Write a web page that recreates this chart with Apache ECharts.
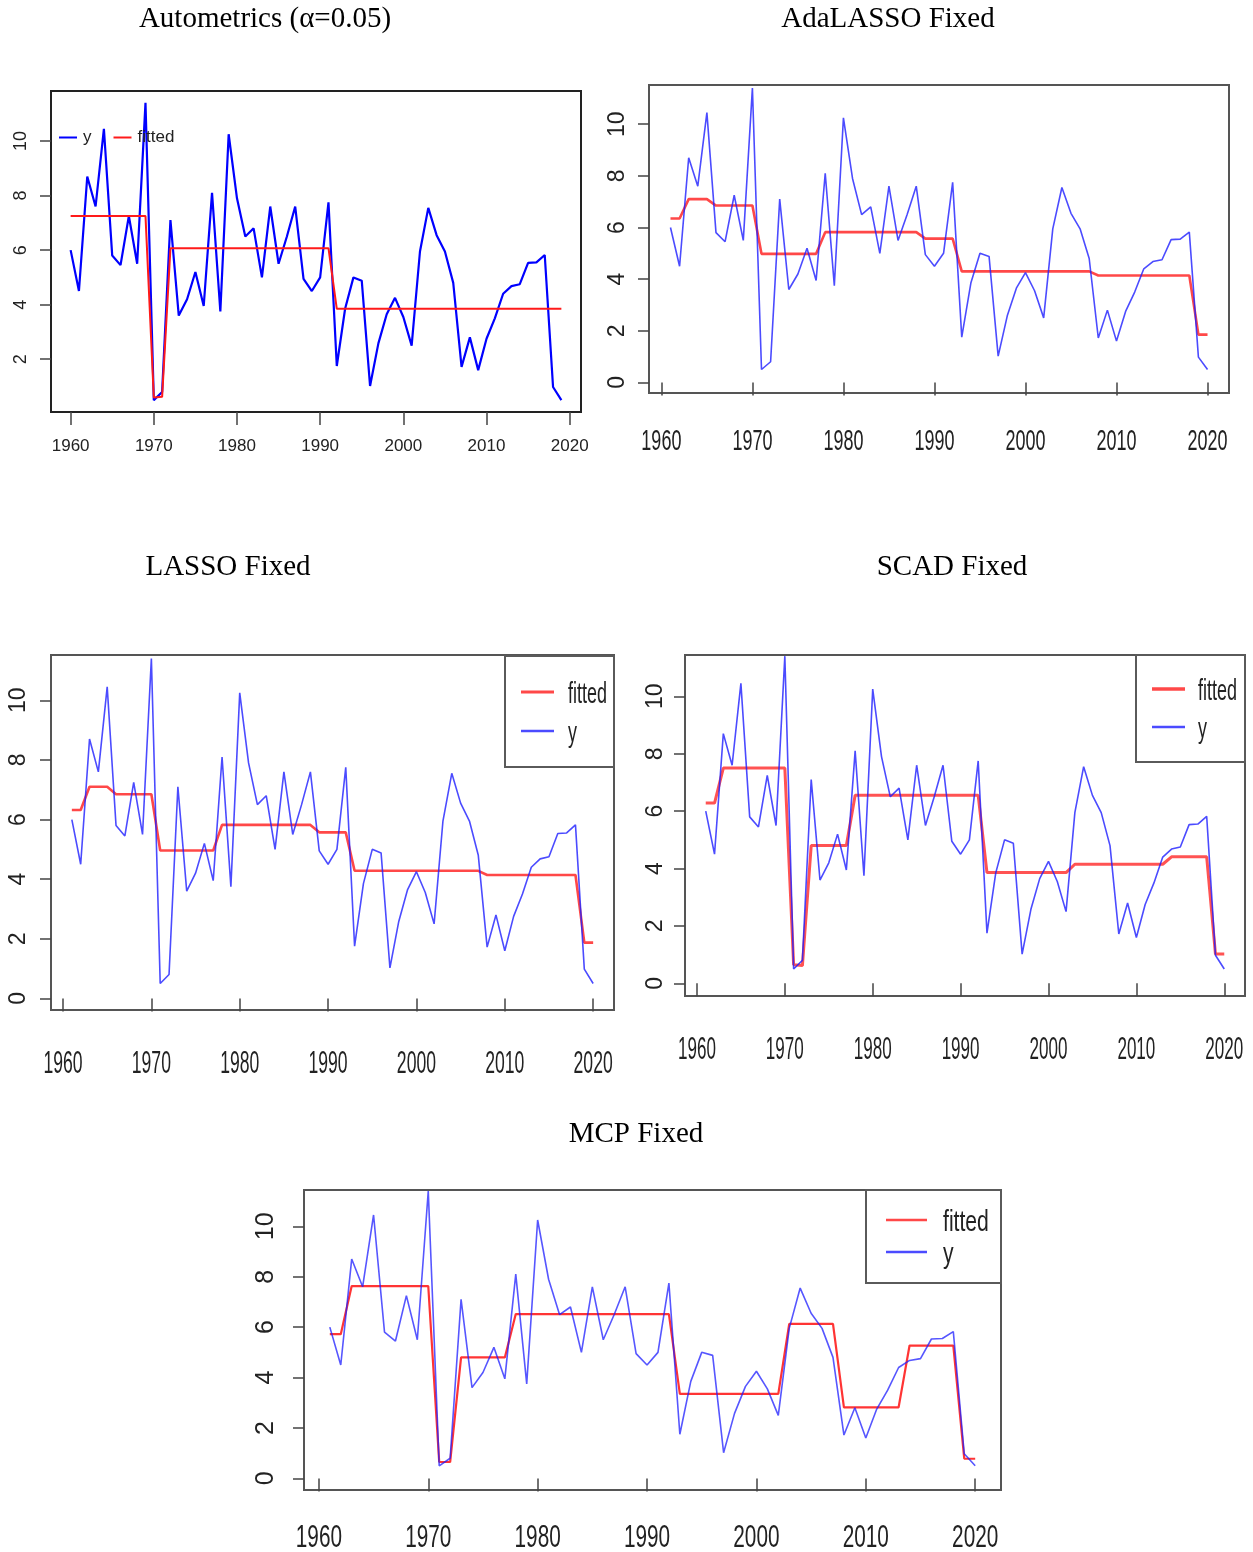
<!DOCTYPE html>
<html>
<head>
<meta charset="utf-8">
<title>y vs fitted</title>
<script src="https://cdn.jsdelivr.net/npm/echarts@6.0.0/dist/echarts.min.js"></script>
<style>
  html, body { margin: 0; padding: 0; background: #fff; }
  #main { width: 1253px; height: 1552px; }
</style>
</head>
<body>
<div id="main"></div>
<script>
var yValues = [
  6.0, 4.5, 8.7, 7.6, 10.45, 5.8, 5.45, 7.25, 5.5, 11.4,
  0.5, 0.8, 7.1, 3.6, 4.2, 5.2, 3.95, 8.1, 3.75, 10.25,
  7.9, 6.5, 6.8, 5.0, 7.6, 5.5, 6.5, 7.6, 4.95, 4.5,
  5.0, 7.75, 1.75, 3.85, 5.0, 4.88, 1.02, 2.58, 3.65, 4.25,
  3.55, 2.5, 5.95, 7.55, 6.55, 5.95, 4.8, 1.72, 2.8, 1.6,
  2.75, 3.5, 4.4, 4.68, 4.75, 5.53, 5.55, 5.82, 0.98, 0.5
];

var fitAutometrics = [
  7.25, 7.25, 7.25, 7.25, 7.25, 7.25, 7.25, 7.25, 7.25, 7.25,
  0.6, 0.62, 6.07, 6.07, 6.07, 6.07, 6.07, 6.07, 6.07, 6.07,
  6.07, 6.07, 6.07, 6.07, 6.07, 6.07, 6.07, 6.07, 6.07, 6.07,
  6.07, 6.07, 3.85, 3.85, 3.85, 3.85, 3.85, 3.85, 3.85, 3.85,
  3.85, 3.85, 3.85, 3.85, 3.85, 3.85, 3.85, 3.85, 3.85, 3.85,
  3.85, 3.85, 3.85, 3.85, 3.85, 3.85, 3.85, 3.85, 3.85, 3.85
];

var fitAdaLasso = [
  6.35, 6.35, 7.1, 7.1, 7.1, 6.85, 6.85, 6.85, 6.85, 6.85,
  4.98, 4.98, 4.98, 4.98, 4.98, 4.98, 4.98, 5.82, 5.82, 5.82,
  5.82, 5.82, 5.82, 5.82, 5.82, 5.82, 5.82, 5.82, 5.57, 5.57,
  5.57, 5.57, 4.3, 4.3, 4.3, 4.3, 4.3, 4.3, 4.3, 4.3,
  4.3, 4.3, 4.3, 4.3, 4.3, 4.3, 4.3, 4.14, 4.14, 4.14,
  4.14, 4.14, 4.14, 4.14, 4.14, 4.14, 4.14, 4.14, 1.85, 1.85
];

var fitLasso = [
  6.32, 6.32, 7.1, 7.1, 7.1, 6.85, 6.85, 6.85, 6.85, 6.85,
  4.96, 4.96, 4.96, 4.96, 4.96, 4.96, 4.96, 5.82, 5.82, 5.82,
  5.82, 5.82, 5.82, 5.82, 5.82, 5.82, 5.82, 5.82, 5.57, 5.57,
  5.57, 5.57, 4.28, 4.28, 4.28, 4.28, 4.28, 4.28, 4.28, 4.28,
  4.28, 4.28, 4.28, 4.28, 4.28, 4.28, 4.28, 4.14, 4.14, 4.14,
  4.14, 4.14, 4.14, 4.14, 4.14, 4.14, 4.14, 4.14, 1.87, 1.87
];

var fitScad = [
  6.28, 6.28, 7.5, 7.5, 7.5, 7.5, 7.5, 7.5, 7.5, 7.5,
  0.65, 0.62, 4.8, 4.8, 4.8, 4.8, 4.8, 6.55, 6.55, 6.55,
  6.55, 6.55, 6.55, 6.55, 6.55, 6.55, 6.55, 6.55, 6.55, 6.55,
  6.55, 6.55, 3.86, 3.86, 3.86, 3.86, 3.86, 3.86, 3.86, 3.86,
  3.86, 3.86, 4.15, 4.15, 4.15, 4.15, 4.15, 4.15, 4.15, 4.15,
  4.15, 4.15, 4.15, 4.41, 4.41, 4.41, 4.41, 4.41, 1.02, 1.02
];

var fitMcp = [
  5.72, 5.72, 7.63, 7.63, 7.63, 7.63, 7.63, 7.63, 7.63, 7.63,
  0.65, 0.65, 4.8, 4.8, 4.8, 4.8, 4.8, 6.52, 6.52, 6.52,
  6.52, 6.52, 6.52, 6.52, 6.52, 6.52, 6.52, 6.52, 6.52, 6.52,
  6.52, 6.52, 3.35, 3.35, 3.35, 3.35, 3.35, 3.35, 3.35, 3.35,
  3.35, 3.35, 6.13, 6.13, 6.13, 6.13, 6.13, 2.82, 2.82, 2.82,
  2.82, 2.82, 2.82, 5.27, 5.27, 5.27, 5.27, 5.27, 0.78, 0.78
];

var xTickYears = [1960, 1970, 1980, 1990, 2000, 2010, 2020];
var yTicksAutometrics = [2, 4, 6, 8, 10];
var yTicksFixed = [0, 2, 4, 6, 8, 10];

function yearSpan(first, n) {
  var out = [];
  for (var i = 0; i < n; i++) out.push(first + i);
  return out;
}
var yearsAutometrics = yearSpan(1960, yValues.length);
var yearsFixed = yearSpan(1961, yValues.length);

function pairs(xs, vs) {
  return xs.map(function (x, i) { return [x, vs[i]]; });
}

var SANS = "'Liberation Sans', Arial, sans-serif";
var SERIF = "'Liberation Serif', 'Times New Roman', serif";

var BLUE_SOFT = 'rgba(30,30,255,0.8)';
var RED_SOFT = 'rgba(255,40,40,0.85)';

// layout of the five R plots (the lower four were squeezed sideways, hence the narrow text)
var panels = [
  {
    title: 'Autometrics (α=0.05)', titleX: 265, titleTop: 5,
    years: yearsAutometrics, fitted: fitAutometrics, yTicks: yTicksAutometrics,
    box: [51, 91, 530, 321], xRange: [1957.64, 2021.36], yRange: [0.064, 11.836],
    boxColor: '#222', yFont: 18, yMargin: 21,
    xLabel: { size: 17, margin: 26 }, xText: null,
    blue: '#0000ff', red: '#ff1a1a', blueW: 2.2, redW: 2, redOnTop: true,
    legendBox: null
  },
  {
    title: 'AdaLASSO Fixed', titleX: 888, titleTop: 5,
    years: yearsFixed, fitted: fitAdaLasso, yTicks: yTicksFixed,
    box: [649, 85, 580, 308], xRange: [1958.64, 2022.36], yRange: [-0.41, 11.52],
    boxColor: '#555', yFont: 23, yMargin: 20,
    xLabel: null, xText: { y: 442, size: 30, sx: 0.6 },
    blue: BLUE_SOFT, red: RED_SOFT, blueW: 1.6, redW: 2.6, redOnTop: false,
    legendBox: null
  },
  {
    title: 'LASSO Fixed', titleX: 228, titleTop: 553,
    years: yearsFixed, fitted: fitLasso, yTicks: yTicksFixed,
    box: [51, 655, 563, 355], xRange: [1958.64, 2022.36], yRange: [-0.39, 11.52],
    boxColor: '#555', yFont: 23, yMargin: 21,
    xLabel: null, xText: { y: 1064, size: 32, sx: 0.55 },
    blue: BLUE_SOFT, red: RED_SOFT, blueW: 1.6, redW: 2.6, redOnTop: false,
    legendBox: { rect: [505, 656, 109, 111], lineX: [521, 554], rowY: [692, 731], textX: 568,
      size: 29, sx: 0.62, redW: 3, blueW: 2.5 }
  },
  {
    title: 'SCAD Fixed', titleX: 952, titleTop: 553,
    years: yearsFixed, fitted: fitScad, yTicks: yTicksFixed,
    box: [685, 655, 560, 341], xRange: [1958.64, 2022.36], yRange: [-0.44, 11.44],
    boxColor: '#555', yFont: 23, yMargin: 18,
    xLabel: null, xText: { y: 1050, size: 31, sx: 0.55 },
    blue: BLUE_SOFT, red: 'rgba(255,40,40,0.8)', blueW: 1.6, redW: 3, redOnTop: false,
    legendBox: { rect: [1136, 655, 109, 107], lineX: [1152, 1185], rowY: [689, 727], textX: 1198,
      size: 29, sx: 0.62, redW: 3.5, blueW: 2.5 }
  },
  {
    title: 'MCP Fixed', titleX: 636, titleTop: 1120,
    years: yearsFixed, fitted: fitMcp, yTicks: yTicksFixed,
    box: [304, 1190, 697, 300], xRange: [1958.64, 2022.36], yRange: [-0.46, 11.44],
    boxColor: '#555', yFont: 25, yMargin: 25,
    xLabel: null, xText: { y: 1538, size: 31, sx: 0.67 },
    blue: 'rgba(30,30,255,0.75)', red: 'rgba(255,30,30,0.9)', blueW: 1.6, redW: 2.2, redOnTop: false,
    legendBox: { rect: [866, 1190, 135, 93], lineX: [886, 927], rowY: [1220, 1252], textX: 943,
      size: 29, sx: 0.73, redW: 2.5, blueW: 2.5 }
  }
];

var option = {
  animation: false,
  backgroundColor: '#fff',
  title: [], grid: [], xAxis: [], yAxis: [], series: [],
  // only the Autometrics panel uses the plain R legend without a frame
  legend: [{
    left: 59, top: 129, orient: 'horizontal', padding: 0,
    itemWidth: 18, itemHeight: 2, itemGap: 22, icon: 'rect', selectedMode: false,
    textStyle: { fontFamily: SANS, fontSize: 17, lineHeight: 17, color: '#222', padding: [0, 0, 0, 1] },
    data: [{ name: 'y', itemStyle: { color: '#0000ff' } }, { name: 'fitted', itemStyle: { color: '#ff1a1a' } }]
  }]
};

panels.forEach(function (p, i) {
  option.title.push({
    text: p.title, left: p.titleX, top: p.titleTop, textAlign: 'center', padding: 0,
    textStyle: { fontFamily: SERIF, fontSize: 29, fontWeight: 'normal', color: '#000' }
  });
  option.grid.push({
    left: p.box[0], top: p.box[1], width: p.box[2], height: p.box[3],
    containLabel: false, outerBoundsMode: 'none',
    show: true, borderColor: p.boxColor, borderWidth: 2, backgroundColor: 'transparent'
  });
  option.xAxis.push({
    type: 'value', gridIndex: i, min: p.xRange[0], max: p.xRange[1],
    splitLine: { show: false }, axisLine: { show: false },
    axisTick: { show: true, customValues: xTickYears, length: 13, lineStyle: { color: '#444', width: 1.5 } },
    axisLabel: p.xLabel ? {
      customValues: xTickYears, margin: p.xLabel.margin, color: '#222',
      fontFamily: SANS, fontSize: p.xLabel.size,
      formatter: function (v) { return String(v); }
    } : { show: false }
  });
  option.yAxis.push({
    type: 'value', gridIndex: i, min: p.yRange[0], max: p.yRange[1],
    splitLine: { show: false }, axisLine: { show: false },
    axisTick: { show: true, customValues: p.yTicks, length: 11, lineStyle: { color: '#444', width: 1.5 } },
    axisLabel: {
      customValues: p.yTicks, rotate: 90, margin: p.yMargin, color: '#222',
      fontFamily: SANS, fontSize: p.yFont,
      formatter: function (v) { return String(v); }
    }
  });

  option.series.push({
    name: 'y', type: 'line', xAxisIndex: i, yAxisIndex: i,
    data: pairs(p.years, yValues), symbol: 'none', z: p.redOnTop ? 2 : 3,
    lineStyle: { color: p.blue, width: p.blueW }, itemStyle: { color: p.blue }
  }, {
    name: 'fitted', type: 'line', xAxisIndex: i, yAxisIndex: i,
    data: pairs(p.years, p.fitted), symbol: 'none', z: p.redOnTop ? 3 : 2,
    lineStyle: { color: p.red, width: p.redW }, itemStyle: { color: p.red }
  });
});

var chart = echarts.init(document.getElementById('main'));
chart.setOption(option);

// squeezed tick labels and framed legends, placed through the axes' own scale
var graphics = [];
panels.forEach(function (p, i) {
  if (p.xText) {
    xTickYears.forEach(function (yr) {
      graphics.push({
        type: 'text', silent: true, z: 10,
        x: chart.convertToPixel({ xAxisIndex: i }, yr), y: p.xText.y, scaleX: p.xText.sx,
        style: { text: String(yr), align: 'center', verticalAlign: 'middle',
          fontFamily: SANS, fontSize: p.xText.size, fill: '#222' }
      });
    });
  }
  var L = p.legendBox;
  if (L) {
    graphics.push({
      type: 'rect', silent: true, z: 20,
      shape: { x: L.rect[0], y: L.rect[1], width: L.rect[2], height: L.rect[3] },
      style: { fill: '#fff', stroke: '#5a5a5a', lineWidth: 2 }
    });
    [['fitted', RED_SOFT, L.redW], ['y', BLUE_SOFT, L.blueW]].forEach(function (row, k) {
      graphics.push({
        type: 'line', silent: true, z: 21,
        shape: { x1: L.lineX[0], y1: L.rowY[k], x2: L.lineX[1], y2: L.rowY[k] },
        style: { stroke: row[1], lineWidth: row[2] }
      }, {
        type: 'text', silent: true, z: 21,
        x: L.textX, y: L.rowY[k] + 3, scaleX: L.sx,
        style: { text: row[0], align: 'left', verticalAlign: 'middle',
          fontFamily: SANS, fontSize: L.size, fill: '#222' }
      });
    });
  }
});
chart.setOption({ graphic: graphics });

window.addEventListener('resize', function () { chart.resize(); });
</script>
</body>
</html>
